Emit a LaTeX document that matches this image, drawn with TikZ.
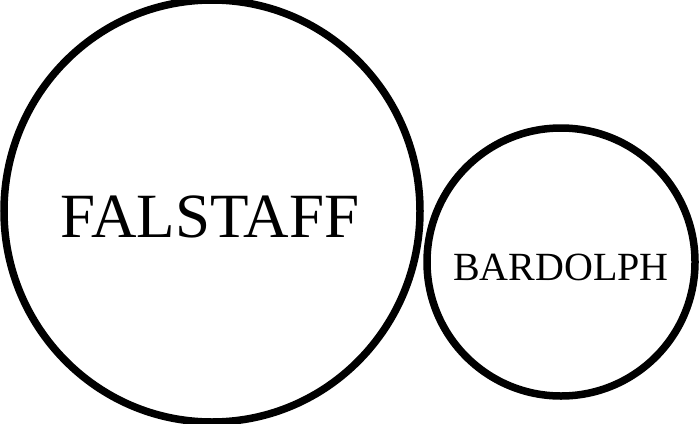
\documentclass[tikz,border=0pt]{standalone}
\usepackage{fontspec}
\setmainfont{Liberation Serif}
\begin{document}
\begin{tikzpicture}[x=1pt,y=-1pt,
  ring/.style={draw=black,line width=7.5pt},
  bigname/.style={font=\fontsize{63}{63}\selectfont,inner sep=0pt,anchor=base},
  smallname/.style={font=\fontsize{40}{40}\selectfont,inner sep=0pt,anchor=base}]
\useasboundingbox (0,0) rectangle (700,423);
\path[ring] (212,211) ellipse [x radius=208,y radius=211];
\path[ring] (561,262) circle [radius=134];
\node[bigname] (falstaff) at (210,237) {FALSTAFF};
\node[smallname] (bardolph) at (561,280) {BARDOLPH};
\end{tikzpicture}
\end{document}
